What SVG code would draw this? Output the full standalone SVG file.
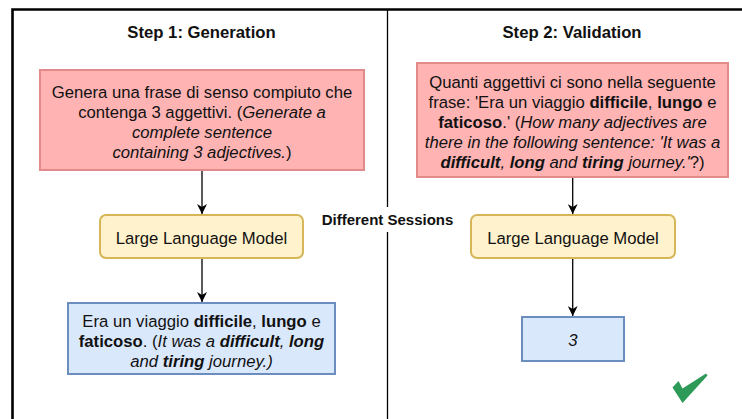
<svg xmlns="http://www.w3.org/2000/svg" width="742" height="419" viewBox="0 0 742 419">
  <style>
    text { font-family: "Liberation Sans", Arial, sans-serif; font-size: 16.7px; fill: #111; }
    .title { font-weight: bold; text-anchor: middle; }
    .c { text-anchor: middle; }
    .b { font-weight: bold; }
    .i { font-style: italic; }
    .bi { font-weight: bold; font-style: italic; }
    .prompt { fill: #ffb3b3; stroke: #e38a8a; stroke-width: 2; }
    .llm { fill: #fff2cc; stroke: #d6b656; stroke-width: 2; }
    .out { fill: #dae8fc; stroke: #6c8ebf; stroke-width: 2; }
    .edge { stroke: #000; stroke-width: 1.3; fill: none; marker-end: url(#arrow); }
  </style>
  <defs>
    <marker id="arrow" viewBox="0 0 10 10" refX="10" refY="5" markerWidth="10" markerHeight="10" markerUnits="userSpaceOnUse" orient="auto">
      <path d="M0,0 L10,5 L0,10 L3,5 z" fill="#000"/>
    </marker>
  </defs>

  <rect width="742" height="419" fill="#fff"/>

  <!-- frame and divider -->
  <g id="frame">
    <path d="M12.5,419 V9.5 H742" fill="none" stroke="#000" stroke-width="2.6"/>
    <line x1="387.5" y1="9.5" x2="387.5" y2="419" stroke="#000" stroke-width="1.3"/>
  </g>

  <!-- section titles -->
  <g id="titles">
    <text class="title" x="201.5" y="38">Step 1: Generation</text>
    <text class="title" x="572" y="37.5">Step 2: Validation</text>
  </g>

  <!-- connectors -->
  <g id="connectors">
    <line class="edge" x1="202" y1="171" x2="202" y2="214"/>
    <line class="edge" x1="202" y1="259" x2="202" y2="302"/>
    <line class="edge" x1="572.7" y1="178" x2="572.7" y2="214"/>
    <line class="edge" x1="572.7" y1="259" x2="572.7" y2="316"/>
  </g>

  <!-- step 1 -->
  <g id="gen-prompt">
    <rect class="prompt" x="40" y="70" width="324" height="100"/>
    <text class="c" x="202" y="98">Genera una frase di senso compiuto che</text>
    <text class="c" x="202" y="118">contenga 3 aggettivi. (<tspan class="i">Generate a</tspan></text>
    <text class="c i" x="202" y="138">complete sentence</text>
    <text class="c" x="202" y="158"><tspan class="i">containing 3 adjectives.</tspan>)</text>
  </g>

  <g id="gen-llm">
    <rect class="llm" x="100" y="215" width="203" height="43" rx="6"/>
    <text class="c" x="201.5" y="244">Large Language Model</text>
  </g>

  <g id="gen-output">
    <rect class="out" x="68" y="303" width="267" height="71"/>
    <text class="c" x="201.5" y="327">Era un viaggio <tspan class="b">difficile</tspan>, <tspan class="b">lungo</tspan> e</text>
    <text class="c" x="201.5" y="347"><tspan class="b">faticoso</tspan>. (<tspan class="i">It was a </tspan><tspan class="bi">difficult</tspan><tspan class="i">, </tspan><tspan class="bi">long</tspan></text>
    <text class="c" x="201.5" y="367"><tspan class="i">and </tspan><tspan class="bi">tiring</tspan><tspan class="i"> journey.)</tspan></text>
  </g>

  <!-- session separator label -->
  <g id="sessions">
    <rect x="318" y="207" width="139" height="25" fill="#fff"/>
    <text class="b" x="387.5" y="225" text-anchor="middle" style="font-size:15px">Different Sessions</text>
  </g>

  <!-- step 2 -->
  <g id="val-prompt">
    <rect class="prompt" x="417" y="63" width="311" height="114"/>
    <text class="c" x="572.5" y="88">Quanti aggettivi ci sono nella seguente</text>
    <text class="c" x="572.5" y="108">frase: 'Era un viaggio <tspan class="b">difficile</tspan>, <tspan class="b">lungo</tspan> e</text>
    <text class="c" x="572.5" y="128"><tspan class="b">faticoso</tspan>.' (<tspan class="i">How many adjectives are</tspan></text>
    <text class="c i" x="572.5" y="148">there in the following sentence: 'It was a</text>
    <text class="c" x="572.5" y="168"><tspan class="bi">difficult</tspan><tspan class="i">, </tspan><tspan class="bi">long</tspan><tspan class="i"> and </tspan><tspan class="bi">tiring</tspan><tspan class="i"> journey.'</tspan>?)</text>
  </g>

  <g id="val-llm">
    <rect class="llm" x="471" y="215" width="204" height="43" rx="6"/>
    <text class="c" x="573" y="244">Large Language Model</text>
  </g>

  <g id="val-output">
    <rect class="out" x="522" y="317" width="102" height="44"/>
    <text class="c i" x="573" y="346">3</text>
  </g>

  <g id="check">
    <polygon points="672.5,387.5 678.5,381 682.5,388.5 706,373.5 707.5,375.5 682.5,403" fill="#2e9a58"/>
  </g>
</svg>
